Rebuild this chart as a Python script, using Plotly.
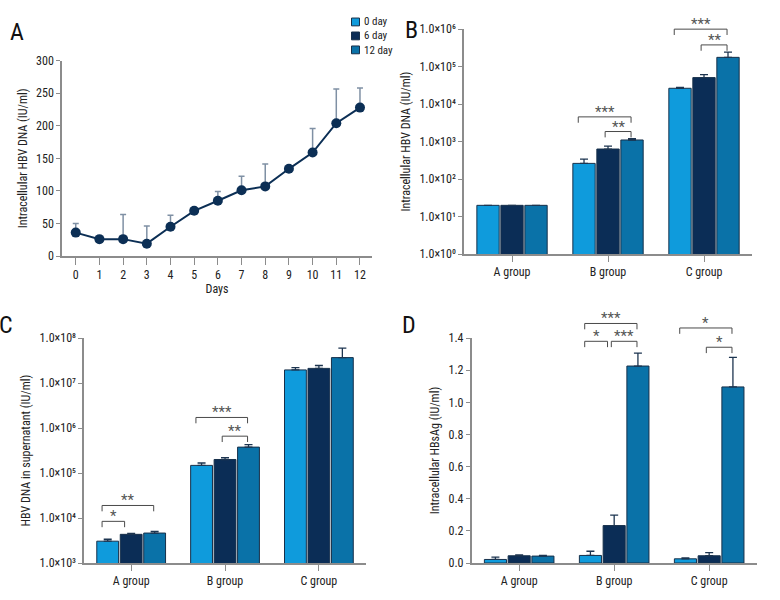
import math
import plotly.graph_objects as go

FONT = "Liberation Sans Narrow, Roboto Condensed, Arial Narrow, sans-serif"

# ---------------- Data ----------------
days = list(range(13))
a_mean = [36, 26, 26, 19, 45, 69.5, 85, 101, 107, 134, 159, 204, 228]
a_err = [14, 0, 38, 27, 17.5, 0, 14, 21.5, 34.5, 0, 37, 52.5, 30]

groups = ["A group", "B group", "C group"]
series = ["0 day", "6 day", "12 day"]
colors = ["#0f9bdc", "#0b2d56", "#0a72a8"]

# Panel B: intracellular HBV DNA (IU/ml) - mean and upper error end
b_0day = [20, 263, 26500]
b_0day_up = [20, 340, 28000]
b_6day = [20, 635, 51000]
b_6day_up = [20, 760, 61000]
b_12day = [20, 1107, 177000]
b_12day_up = [20, 1200, 243000]

# Panel C: HBV DNA in supernatant (IU/ml)
c_0day = [3055, 148000, 1.96e7]
c_0day_up = [3375, 167000, 2.2e7]
c_6day = [4335, 200000, 2.12e7]
c_6day_up = [4530, 221000, 2.46e7]
c_12day = [4630, 377000, 3.68e7]
c_12day_up = [5030, 430000, 5.97e7]

# Panel D: intracellular HBsAg (IU/ml)
d_0day = [0.022, 0.047, 0.026]
d_0day_up = [0.036, 0.073, 0.032]
d_6day = [0.045, 0.233, 0.045]
d_6day_up = [0.05, 0.298, 0.065]
d_12day = [0.043, 1.226, 1.096]
d_12day_up = [0.047, 1.307, 1.28]

# significance brackets: (group, bar i, bar j, level, label)
b_brackets = [("B group", 0, 2, 4570, "***"), ("B group", 1, 2, 1860, "**"),
              ("C group", 0, 2, 1.0e6, "***"), ("C group", 1, 2, 3.8e5, "**")]
c_brackets = [("A group", 0, 2, 19000, "**"), ("A group", 0, 1, 8430, "*"),
              ("B group", 0, 2, 1.72e6, "***"), ("B group", 1, 2, 6.6e5, "**")]
d_brackets = [("B group", 0, 2, 1.491, "***"), ("B group", 0, 1, 1.38, "*"),
              ("B group", 1, 2, 1.38, "***"), ("C group", 0, 2, 1.463, "*"),
              ("C group", 1, 2, 1.343, "*")]

a_ticks = [0, 50, 100, 150, 200, 250, 300]
b_exps = [0, 1, 2, 3, 4, 5, 6]
c_exps = [3, 4, 5, 6, 7, 8]
d_ticks = [0.0, 0.2, 0.4, 0.6, 0.8, 1.0, 1.2, 1.4]

B_RANGE = [0, 6]
C_RANGE = [3, 8]
D_RANGE = [0, 1.4]

SUP = str.maketrans("0123456789", "⁰¹²³⁴⁵⁶⁷⁸⁹")


def sci_label(e):
    return "1.0×10" + str(e).translate(SUP)


# ---------------- Figure ----------------
fig = go.Figure()
AXC = "#8c8c8c"
ERRC = "#1d3550"

# Panel A
fig.add_trace(go.Scatter(
    x=days, y=a_mean, mode="lines+markers", xaxis="x", yaxis="y",
    line=dict(color="#0c2f55", width=2),
    marker=dict(size=10, color="#0c2f55"),
    error_y=dict(type="data", array=a_err, arrayminus=[0] * len(a_err), symmetric=False,
                 color="#7f90a4", thickness=1.5, width=3),
    showlegend=False))


def add_bars(vals_list, ups_list, xa, ya):
    for name, col, vals, ups in zip(series, colors, vals_list, ups_list):
        err = [u - v for u, v in zip(ups, vals)]
        fig.add_trace(go.Bar(
            x=groups, y=vals, name=name, xaxis=xa, yaxis=ya,
            marker=dict(color=col, line=dict(color="#17304a", width=1)),
            error_y=dict(type="data", array=err, arrayminus=[0] * len(err), symmetric=False,
                         color=ERRC, thickness=1.3, width=4),
            showlegend=False))


add_bars([b_0day, b_6day, b_12day], [b_0day_up, b_6day_up, b_12day_up], "x2", "y2")
add_bars([c_0day, c_6day, c_12day], [c_0day_up, c_6day_up, c_12day_up], "x3", "y3")
add_bars([d_0day, d_6day, d_12day], [d_0day_up, d_6day_up, d_12day_up], "x4", "y4")

BARGAP = 0.25
slot = (1 - BARGAP) / 3
offsets = [-slot, 0, slot]

shapes = []
annotations = []


def add_brackets(brs, xref, ydomref, rng, is_log):
    span = rng[1] - rng[0]
    tick = 0.026
    for g, i, j, level, label in brs:
        gi = groups.index(g)
        x0 = gi + offsets[i] - (0.06 if i == 0 else 0.03)
        x1 = gi + offsets[j] - (0.07 if j == 1 else 0.01)
        v = math.log10(level) if is_log else level
        y = (v - rng[0]) / span
        line = dict(color="#4a4a4a", width=1)
        for (xa, xb, ya, yb) in [(x0, x1, y, y), (x0, x0, y, y - tick), (x1, x1, y, y - tick)]:
            shapes.append(dict(type="line", xref=xref, yref=ydomref,
                               x0=xa, x1=xb, y0=ya, y1=yb, line=line))
        annotations.append(dict(xref=xref, yref=ydomref, x=(x0 + x1) / 2, y=y, text=label,
                                showarrow=False, yanchor="bottom", yshift=-6,
                                font=dict(family=FONT, size=15, color="#555555")))


add_brackets(b_brackets, "x2", "y2 domain", B_RANGE, True)
add_brackets(c_brackets, "x3", "y3 domain", C_RANGE, True)
add_brackets(d_brackets, "x4", "y4 domain", D_RANGE, False)

# panel letters
for txt, x, y in [("A", 0.022, 0.958), ("B", 0.527, 0.96), ("C", 0.008, 0.458), ("D", 0.524, 0.457)]:
    annotations.append(dict(xref="paper", yref="paper", x=x, y=y, text=txt, showarrow=False,
                            xanchor="center", yanchor="middle",
                            font=dict(family=FONT, size=24, color="#111111")))

# legend (swatches + one multi-line label block)
LEG_FS = 11
LEG_STEP = LEG_FS * 1.3
for k, col in enumerate(colors):
    yc = 1 - (15.3 + LEG_STEP * k) / 600
    shapes.append(dict(type="rect", xref="paper", yref="paper",
                       x0=351.5 / 780, x1=359.5 / 780, y0=yc - 4 / 600, y1=yc + 4 / 600,
                       fillcolor=col, line=dict(color="#17304a", width=1)))
annotations.append(dict(xref="paper", yref="paper", x=361.5 / 780,
                        y=1 - (15.3 + LEG_STEP) / 600, text="<br>".join(series),
                        showarrow=False, xanchor="left", yanchor="middle", align="left",
                        font=dict(family=FONT, size=LEG_FS, color="#222222")))

common_axis = dict(showline=True, linecolor=AXC, linewidth=1.5, ticks="outside",
                   tickcolor=AXC, ticklen=4, tickwidth=1.3, showgrid=False, zeroline=False,
                   tickfont=dict(family=FONT, size=12, color="#222222"),
                   title_font=dict(family=FONT, size=12, color="#222222"))

fig.update_layout(
    width=780, height=600, autosize=False,
    margin=dict(l=0, r=0, t=0, b=0),
    paper_bgcolor="white", plot_bgcolor="white",
    font=dict(family=FONT, size=12, color="#222222"),
    barmode="group", bargap=BARGAP, bargroupgap=0.07,
    showlegend=False,
    shapes=shapes, annotations=annotations,
    xaxis=dict(common_axis, domain=[0.0795, 0.477], range=[-0.58, 12.51], ticklen=7,
               tickvals=days, title=dict(text="Days", standoff=1), anchor="y"),
    yaxis=dict(common_axis, domain=[0.575, 0.9083], range=[0, 300], tickvals=a_ticks,
               title=dict(text="Intracellular HBV DNA (IU/ml)", standoff=6), anchor="x"),
    xaxis2=dict(common_axis, domain=[0.5949, 0.9641], range=[-0.5, 2.5], anchor="y2",
                type="category", ticklen=6),
    yaxis2=dict(common_axis, domain=[0.5783, 0.9622], type="log", range=B_RANGE, anchor="x2",
                tickvals=[10 ** e for e in b_exps],
                ticktext=[sci_label(e) for e in b_exps],
                title=dict(text="Intracellular HBV DNA (IU/ml)", standoff=6)),
    xaxis3=dict(common_axis, domain=[0.108, 0.469], range=[-0.5, 2.5], anchor="y3",
                type="category", ticklen=6),
    yaxis3=dict(common_axis, domain=[0.0512, 0.435], type="log", range=C_RANGE, anchor="x3",
                tickvals=[10 ** e for e in c_exps],
                ticktext=[sci_label(e) for e in c_exps],
                title=dict(text="HBV DNA in supernatant (IU/ml)", standoff=6)),
    xaxis4=dict(common_axis, domain=[0.6047, 0.9701], range=[-0.5, 2.5], anchor="y4",
                type="category", ticklen=6),
    yaxis4=dict(common_axis, domain=[0.0512, 0.435], range=D_RANGE, anchor="x4",
                tickvals=d_ticks, tickformat=".1f",
                title=dict(text="Intracellular HBsAg (IU/ml)", standoff=6)),
)

fig.write_html("out.html", config={"displayModeBar": False},
               post_script="document.body.style.margin='0px';")
